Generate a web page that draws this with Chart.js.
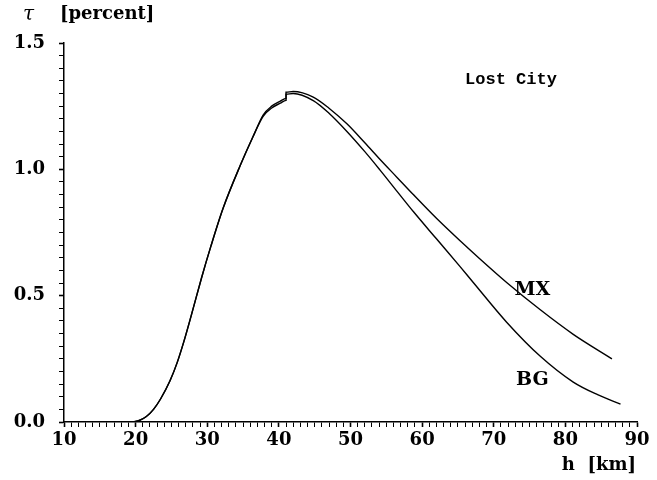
<!DOCTYPE html>
<html>
<head>
<meta charset="utf-8">
<script src="https://cdn.jsdelivr.net/npm/chart.js@4.4.1/dist/chart.umd.min.js"></script>
<style>
  html, body { margin: 0; padding: 0; background: #fff; }
  #wrap { width: 657px; height: 480px; }
</style>
</head>
<body>
<div id="wrap"><canvas id="myChart" width="657" height="480"></canvas></div>
<script>
// heights (km) and tau (percent)
const mxHeight = [19.7, 20.5, 21.5, 22.5, 23.5, 24.8, 25.8, 26.7, 27.8, 29.2, 30.5, 32.2, 34.6, 36.4, 37.8, 39.0, 40.2, 41.0, 41.0, 42.0, 44.8, 47.0, 49.5, 52.0, 54.1, 56.5, 58.8, 62.0, 65.3, 68.0, 71.8, 76.5, 81.1, 86.5];
const mxTau = [0.0, 0.006, 0.022, 0.05, 0.092, 0.163, 0.235, 0.315, 0.425, 0.57, 0.695, 0.845, 1.015, 1.13, 1.215, 1.25, 1.27, 1.281, 1.305, 1.308, 1.286, 1.242, 1.18, 1.105, 1.04, 0.968, 0.899, 0.806, 0.717, 0.647, 0.552, 0.444, 0.347, 0.25];

const bgHeight = [19.7, 20.5, 21.5, 22.5, 23.5, 24.8, 25.8, 26.7, 27.8, 29.2, 30.5, 32.2, 34.6, 36.4, 37.8, 39.0, 40.2, 41.0, 41.0, 42.0, 44.8, 47.0, 49.5, 52.0, 54.1, 56.5, 58.8, 62.0, 65.3, 67.2, 71.8, 76.5, 81.1, 84.5, 87.7];
const bgTau = [0.0, 0.006, 0.022, 0.05, 0.092, 0.163, 0.235, 0.315, 0.425, 0.57, 0.695, 0.845, 1.015, 1.13, 1.21, 1.243, 1.262, 1.273, 1.297, 1.3, 1.272, 1.222, 1.15, 1.07, 0.998, 0.913, 0.832, 0.725, 0.615, 0.55, 0.395, 0.26, 0.158, 0.108, 0.071];

const xTickLabels = [10, 20, 30, 40, 50, 60, 70, 80, 90];
const yTickLabels = [0.0, 0.5, 1.0, 1.5];

const toPoints = (xs, ys) => xs.map((x, i) => ({ x: x, y: ys[i] }));
const isLabel = (v, list) => list.some(t => Math.abs(t - v) < 1e-6);

const serif = '"DejaVu Serif", "Liberation Serif", serif';

// labels and axis titles drawn at scale positions
const annotations = {
  id: 'annotations',
  afterDraw(chart) {
    const ctx = chart.ctx;
    const x = chart.scales.x, y = chart.scales.y;
    ctx.save();
    ctx.fillStyle = '#000';
    ctx.textBaseline = 'middle';
    ctx.textAlign = 'center';
    ctx.font = 'bold 19px ' + serif;
    ctx.fillText('MX', x.getPixelForValue(75.4), y.getPixelForValue(0.522));
    ctx.fillText('BG', x.getPixelForValue(75.4), y.getPixelForValue(0.166));
    ctx.font = 'bold 17px "Liberation Mono", "DejaVu Sans Mono", monospace';
    ctx.fillText('Lost City', x.getPixelForValue(72.4), y.getPixelForValue(1.355));
    // axis titles
    ctx.textAlign = 'left';
    ctx.font = 'italic 20px ' + serif;
    ctx.fillText('τ', 23, 15);
    ctx.font = 'bold 18px ' + serif;
    ctx.fillText('[percent]', 60, 14);
    ctx.textAlign = 'right';
    ctx.fillText('h  [km]', 636, 465);
    ctx.restore();
  }
};

const ctx = document.getElementById('myChart').getContext('2d');
const chart = new Chart(ctx, {
  type: 'scatter',
  data: {
    datasets: [{
      label: 'MX',
      data: toPoints(mxHeight, mxTau),
      showLine: true,
      borderColor: '#000',
      borderWidth: 1.4,
      pointRadius: 0,
      cubicInterpolationMode: 'monotone'
    }, {
      label: 'BG',
      data: toPoints(bgHeight, bgTau),
      showLine: true,
      borderColor: '#000',
      borderWidth: 1.4,
      pointRadius: 0,
      cubicInterpolationMode: 'monotone'
    }]
  },
  options: {
    responsive: false,
    animation: false,
    events: [],
    layout: { padding: { top: 43, right: 20, left: 0, bottom: 0 } },
    plugins: {
      legend: { display: false },
      tooltip: { enabled: false }
    },
    scales: {
      x: {
        type: 'linear',
        min: 10,
        max: 90,
        border: { display: true, color: '#000', width: 1.5 },
        grid: {
          drawOnChartArea: false,
          tickLength: 5,
          tickColor: '#000',
          tickWidth: (c) => isLabel(c.tick.value, xTickLabels) ? 1.6 : 1
        },
        ticks: {
          stepSize: 1,
          autoSkip: false,
          maxRotation: 0,
          padding: 3,
          color: '#000',
          font: { family: serif, size: 18, weight: 'bold' },
          callback: (v) => isLabel(v, xTickLabels) ? String(v) : ''
        },
        afterFit: (s) => { s.height = 58; }
      },
      y: {
        type: 'linear',
        min: 0,
        max: 1.5,
        border: { display: true, color: '#000', width: 1.5 },
        grid: {
          drawOnChartArea: false,
          tickLength: 5,
          tickColor: '#000',
          tickWidth: (c) => isLabel(c.tick.value, yTickLabels) ? 1.6 : 1
        },
        ticks: {
          stepSize: 0.05,
          autoSkip: false,
          padding: 14,
          color: '#000',
          font: { family: serif, size: 18, weight: 'bold' },
          callback: (v) => isLabel(v, yTickLabels) ? v.toFixed(1) : ''
        },
        afterFit: (s) => { s.width = 64; }
      }
    }
  },
  plugins: [annotations]
});
</script>
</body>
</html>
